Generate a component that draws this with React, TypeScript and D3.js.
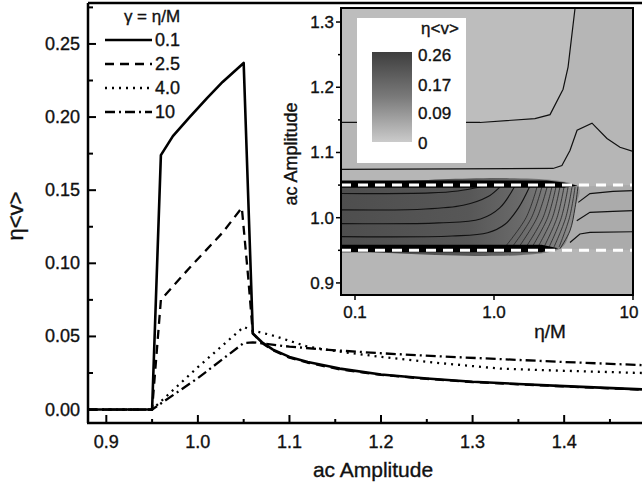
import React from "react";
import * as d3 from "d3";

// main panel: eta<v> vs ac amplitude, one curve per gamma = eta/M
const gammaLabels = ["0.1", "2.5", "4.0", "10"];

const ampG01 = [0.88, 0.95, 0.9596, 0.9727, 0.991, 1.01, 1.027, 1.05, 1.06, 1.07, 1.082, 1.1, 1.12, 1.155, 1.2, 1.25, 1.3, 1.35, 1.4, 1.485];
const velG01 = [0, 0, 0.174, 0.187, 0.2, 0.213, 0.224, 0.237, 0.052, 0.046, 0.041, 0.036, 0.0325, 0.028, 0.024, 0.0212, 0.019, 0.0175, 0.016, 0.0138];

const ampG25 = [0.88, 0.95, 0.9596, 0.991, 1.027, 1.048, 1.055, 1.06, 1.07, 1.082, 1.1, 1.12, 1.155, 1.2, 1.25, 1.3, 1.35, 1.4, 1.485];
const velG25 = [0, 0, 0.075, 0.097, 0.121, 0.138, 0.09, 0.052, 0.0455, 0.0405, 0.0355, 0.032, 0.0275, 0.0237, 0.021, 0.0188, 0.0173, 0.0158, 0.0136];

const ampG40 = [0.88, 0.95, 1.0, 1.05, 1.06, 1.08, 1.1, 1.12, 1.15, 1.2, 1.26, 1.33, 1.4, 1.485];
const velG40 = [0, 0, 0.029, 0.0565, 0.054, 0.051, 0.047, 0.043, 0.04, 0.036, 0.032, 0.028, 0.0265, 0.025];

const ampG10 = [0.88, 0.95, 1.0, 1.05, 1.06, 1.1, 1.15, 1.2, 1.26, 1.33, 1.4, 1.485];
const velG10 = [0, 0, 0.0215, 0.0455, 0.046, 0.043, 0.0405, 0.0385, 0.0365, 0.0345, 0.0325, 0.0304];

const mainXTicks = [0.9, 1.0, 1.1, 1.2, 1.3, 1.4];
const mainXMinor = [0.95, 1.05, 1.15, 1.25, 1.35, 1.45];
const mainYTicks = [0, 0.05, 0.1, 0.15, 0.2, 0.25];
const mainYMinor = [0.025, 0.075, 0.125, 0.175, 0.225, 0.275];

// inset: contour map of eta<v> over (eta/M, ac amplitude)
const insetXTicks = [0.1, 1, 10];
const insetXLabels = ["0.1", "1.0", "10"];
const insetYTicks = [0.9, 1.0, 1.1, 1.2, 1.3];
const insetYMinor = [0.95, 1.05, 1.15, 1.25];
const bandEdges = [0.95, 1.05];

const contourL1Eta = [0.0793, 0.793, 1.97, 2.53, 3.14, 3.41, 3.83];
const contourL1Amp = [1.146, 1.146, 1.152, 1.158, 1.197, 1.231, 1.3215];
const contourL2Eta = [0.0793, 2.66, 3.08, 3.52, 3.96, 5.07, 6.5, 8.06, 10];
const contourL2Amp = [1.074, 1.0755, 1.08, 1.103, 1.134, 1.145, 1.1215, 1.108, 1.1015];

const contourREta = [[4.04, 4.9, 7.18, 10], [3.94, 4.9, 7.18, 10], [3.52, 4.15, 4.9, 10]];
const contourRAmp = [[1.0235, 1.037, 1.0405, 1.0415], [0.9954, 1.0082, 1.0097, 1.0108], [0.962, 0.975, 0.9774, 0.9785]];

const contourAEta = [
  [0.0793, 0.35, 0.55, 0.8],
  [0.0793, 0.3, 0.6, 0.9, 1.1],
  [0.0793, 0.4, 0.8, 1.1, 1.4],
  [0.0793, 0.5, 0.9, 1.2, 1.5, 1.8],
];
const contourAAmp = [
  [1.037, 1.038, 1.041, 1.047],
  [1.012, 1.013, 1.019, 1.032, 1.047],
  [0.991, 0.992, 0.998, 1.015, 1.047],
  [0.971, 0.972, 0.977, 0.99, 1.015, 1.047],
];
// slanted contours: eta at amplitude 0.955 / 1.0 / 1.047
const contourBAmp = [0.955, 1.0, 1.047];
const contourBLow = [1.2, 1.35, 1.51, 1.7, 1.88, 2.07, 2.29, 2.49, 2.7, 2.94];
const contourBMid = [1.7, 1.86, 2.04, 2.25, 2.43, 2.63, 2.84, 3.05, 3.28, 3.49];
const contourBHigh = [2.04, 2.21, 2.41, 2.61, 2.79, 2.98, 3.19, 3.41, 3.64, 3.83];

const bandEdgeEta = [2.98, 3.52, 3.83, 4.02];
const bandEdgeAmp = [0.9523, 0.98, 1.0154, 1.0477];
const topRidgeEta = [0.0793, 2.4, 3.2, 4.0, 3.2, 0.0793];
const topRidgeAmp = [1.057, 1.057, 1.054, 1.049, 1.046, 1.046];
const lowRidgeEta = [0.0793, 2.2, 2.9, 2.2, 0.0793];
const lowRidgeAmp = [0.9585, 0.9585, 0.953, 0.947, 0.947];

const colorbarTicks = [0, 0.09, 0.17, 0.26];

const FONT = "'Liberation Sans', Arial, Helvetica, sans-serif";
const INK = "#111";

const zip = (xs: number[], ys: number[]) => xs.map((v, i) => [v, ys[i]] as [number, number]);

export default function App() {
  const x = d3.scaleLinear().domain([0.88, 1.485]).range([88, 642]);
  const y = d3.scaleLinear().domain([-0.0092, 0.278]).range([423, 3]);

  const ix = d3.scaleLog().domain([0.0793, 10]).range([341, 633]);
  const iy = d3.scaleLinear().domain([0.8815, 1.3215]).range([295, 8]);
  const cb = d3.scaleLinear().domain([0, 0.26]).range([143, 55]);

  const mainLine = d3.line<[number, number]>().x((d) => x(d[0])).y((d) => y(d[1]));
  const insetLine = d3.line<[number, number]>().x((d) => ix(d[0])).y((d) => iy(d[1]));
  const insetSmooth = d3.line<[number, number]>().x((d) => ix(d[0])).y((d) => iy(d[1])).curve(d3.curveCatmullRom);

  const series = [
    { pts: zip(ampG01, velG01), dash: "none", w: 2.6 },
    { pts: zip(ampG25, velG25), dash: "9,6", w: 2.3 },
    { pts: zip(ampG40, velG40), dash: "2,5", w: 2.3 },
    { pts: zip(ampG10, velG10), dash: "10,4,2,4", w: 2.3 },
  ];

  const [x0, x1] = ix.range();
  const [y0, y1] = iy.range();

  // dark band polygon between the two edges
  const bandPoly: [number, number][] = [
    [0.0793, 0.95],
    ...zip(bandEdgeEta, bandEdgeAmp),
    [0.0793, 1.05],
  ];
  const topLeftPoly: [number, number][] = [...zip(contourL1Eta, contourL1Amp), [0.0793, 1.3215]];
  const rightPoly: [number, number][] = [
    ...zip(bandEdgeEta, bandEdgeAmp),
    [10, 1.05],
    [10, 0.95],
  ];

  const gradStops = [
    [0, "#4e4e4e"],
    [0.54, "#575757"],
    [0.76, "#6a6a6a"],
    [0.88, "#7c7c7c"],
    [1, "#8e8e8e"],
  ];

  const textStyle = { stroke: INK, strokeWidth: 0.35 };

  return (
    <svg width={642} height={489} style={{ position: "absolute", left: 0, top: 0, background: "#fff" }} fontFamily={FONT}>
      <defs>
        <clipPath id="inset-clip">
          <rect x={x0} y={y1} width={x1 - x0} height={y0 - y1} />
        </clipPath>
        <linearGradient id="band-grad" gradientUnits="userSpaceOnUse" x1={x0} x2={ix(4.02)} y1={0} y2={0}>
          {gradStops.map(([o, c]) => (
            <stop key={String(o)} offset={o as number} stopColor={c as string} />
          ))}
        </linearGradient>
        <linearGradient id="cb-grad" x1={0} x2={0} y1={0} y2={1}>
          <stop offset={0} stopColor="#3e3e3e" />
          <stop offset={0.5} stopColor="#7a7a7a" />
          <stop offset={1} stopColor="#cbcbcb" />
        </linearGradient>
      </defs>

      {/* main curves */}
      {series.map((s, i) => (
        <path key={i} d={mainLine(s.pts) ?? ""} fill="none" stroke="#000" strokeWidth={s.w} strokeDasharray={s.dash} strokeLinejoin="round" />
      ))}

      {/* main axes */}
      <g stroke="#000" strokeWidth={2.5} fill="none">
        <line x1={88} x2={642} y1={3} y2={3} />
        <line x1={88} x2={88} y1={3} y2={423} />
        <line x1={87} x2={642} y1={423} y2={423} />
      </g>
      <g stroke="#000" strokeWidth={2}>
        {mainYTicks.map((t) => (
          <line key={t} x1={88} x2={96} y1={y(t)} y2={y(t)} />
        ))}
        {mainYMinor.map((t) => (
          <line key={t} x1={88} x2={93} y1={y(t)} y2={y(t)} />
        ))}
        {mainXTicks.map((t) => (
          <line key={t} x1={x(t)} x2={x(t)} y1={423} y2={415} />
        ))}
        {mainXMinor.map((t) => (
          <line key={t} x1={x(t)} x2={x(t)} y1={423} y2={419} />
        ))}
      </g>
      <g fill={INK} fontSize={18} style={textStyle}>
        {mainYTicks.map((t) => (
          <text key={t} x={80} y={y(t) + 6} textAnchor="end">
            {d3.format(".2f")(t)}
          </text>
        ))}
        {mainXTicks.map((t) => (
          <text key={t} x={x(t)} y={448} textAnchor="middle">
            {d3.format(".1f")(t)}
          </text>
        ))}
      </g>
      <text x={373} y={477} textAnchor="middle" fontSize={21} fill={INK} style={textStyle}>
        ac Amplitude
      </text>
      <text transform="translate(23,216) rotate(-90)" textAnchor="middle" fontSize={22} fill={INK} style={textStyle}>
        η&lt;v&gt;
      </text>

      {/* legend */}
      <text x={152} y={22} textAnchor="middle" fontSize={17} fill={INK} style={textStyle}>
        γ = η/M
      </text>
      {series.map((s, i) => (
        <g key={i}>
          <line x1={105} x2={152} y1={40 + i * 24} y2={40 + i * 24} stroke="#000" strokeWidth={2.3} strokeDasharray={s.dash} />
          <text x={155} y={46 + i * 24} fontSize={18} fill={INK} style={textStyle}>
            {gammaLabels[i]}
          </text>
        </g>
      ))}

      {/* inset map */}
      <g clipPath="url(#inset-clip)">
        <rect x={x0} y={y1} width={x1 - x0} height={y0 - y1} fill="#b6b6b6" />
        <path d={(insetLine(topLeftPoly) ?? "") + "Z"} fill="#bdbdbd" />
        <path d={(insetLine(rightPoly) ?? "") + "Z"} fill="#ababab" />
        <path d={(insetSmooth(bandPoly) ?? "") + "Z"} fill="url(#band-grad)" />
        <g fill="none" stroke="#111" strokeWidth={1.1}>
          {contourAEta.map((e, i) => (
            <path key={i} d={insetSmooth(zip(e, contourAAmp[i])) ?? ""} />
          ))}
        </g>
        <g fill="none" stroke="#222" strokeWidth={0.8}>
          {contourBLow.map((b, i) => (
            <path key={i} d={insetSmooth(zip([b, contourBMid[i], contourBHigh[i]], contourBAmp)) ?? ""} />
          ))}
        </g>
        <path d={(insetLine(zip(topRidgeEta, topRidgeAmp)) ?? "") + "Z"} fill="#000" />
        <path d={(insetLine(zip(lowRidgeEta, lowRidgeAmp)) ?? "") + "Z"} fill="#000" />
        <g fill="none" stroke="#111" strokeWidth={1.2}>
          <path d={insetLine(zip(contourL1Eta, contourL1Amp)) ?? ""} />
          <path d={insetLine(zip(contourL2Eta, contourL2Amp)) ?? ""} />
          {contourREta.map((e, i) => (
            <path key={i} d={insetLine(zip(e, contourRAmp[i])) ?? ""} />
          ))}
          <path d={insetSmooth(zip(bandEdgeEta, bandEdgeAmp)) ?? ""} strokeWidth={0.8} />
        </g>
        {bandEdges.map((a) => (
          <line key={a} x1={x0} x2={x1} y1={iy(a)} y2={iy(a)} stroke="#fff" strokeWidth={3} strokeDasharray="10,7" />
        ))}
      </g>

      {/* colour scale box */}
      <rect x={357} y={18} width={109} height={145} fill="#fff" />
      <rect x={372} y={52} width={40} height={90} fill="url(#cb-grad)" />
      <text x={421} y={34} fontSize={17} fill={INK} style={textStyle}>
        η&lt;v&gt;
      </text>
      {colorbarTicks.map((t) => (
        <text key={t} x={418} y={cb(t) + 6} fontSize={17} fill={INK} style={textStyle}>
          {t === 0 ? "0" : d3.format(".2f")(t)}
        </text>
      ))}

      {/* inset axes */}
      <rect x={x0} y={y1} width={x1 - x0} height={y0 - y1} fill="none" stroke="#000" strokeWidth={2} />
      <g stroke="#000" strokeWidth={1.5}>
        {insetYTicks.map((t) => (
          <line key={t} x1={x0 - 5} x2={x0} y1={iy(t)} y2={iy(t)} />
        ))}
        {insetYMinor.map((t) => (
          <line key={t} x1={x0 - 3} x2={x0} y1={iy(t)} y2={iy(t)} />
        ))}
        {insetXTicks.map((t) => (
          <line key={t} x1={ix(t)} x2={ix(t)} y1={y0} y2={y0 + 5} />
        ))}
      </g>
      <g fill={INK} fontSize={17} style={textStyle}>
        {insetYTicks.map((t) => (
          <text key={t} x={334} y={iy(t) + 6} textAnchor="end">
            {d3.format(".1f")(t)}
          </text>
        ))}
        {insetXTicks.map((t, i) => (
          <text key={t} x={i === 2 ? 629 : ix(t)} y={318} textAnchor="middle">
            {insetXLabels[i]}
          </text>
        ))}
      </g>
      <text x={550} y={338} textAnchor="middle" fontSize={19} fill={INK} style={textStyle}>
        η/M
      </text>
      <text transform="translate(297,154) rotate(-90)" textAnchor="middle" fontSize={18} fill={INK} style={textStyle}>
        ac Amplitude
      </text>
    </svg>
  );
}
